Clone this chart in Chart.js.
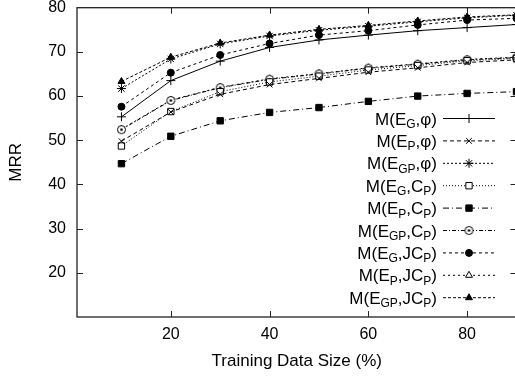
<!DOCTYPE html>
<html>
<head>
<meta charset="utf-8">
<script src="https://cdn.jsdelivr.net/npm/chart.js@4/dist/chart.umd.min.js"></script>
<style>
html, body { margin: 0; padding: 0; background: #fff; overflow: hidden; }
#wrap { width: 522px; height: 376px; }
</style>
</head>
<body>
<div id="wrap"><canvas id="mrr-chart" width="522" height="376"></canvas></div>
<script>
// Dados do gráfico
const trainSizes = [10, 20, 30, 40, 50, 60, 70, 80, 90];
const xTicks = [20, 40, 60, 80];
const yTicks = [20, 30, 40, 50, 60, 70, 80];

const seriesNames = [
	"M(E_G,φ)", "M(E_P,φ)", "M(E_GP,φ)",
	"M(E_G,C_P)", "M(E_P,C_P)", "M(E_GP,C_P)",
	"M(E_G,JC_P)", "M(E_P,JC_P)", "M(E_GP,JC_P)"
];

const egPhi = [55.3, 63.5, 67.9, 71.0, 72.7, 73.8, 74.8, 75.5, 76.2];
const epPhi = [49.8, 56.4, 60.4, 62.6, 64.0, 65.4, 66.4, 67.6, 68.2];
const egpPhi = [61.7, 68.4, 71.8, 73.6, 74.9, 75.8, 76.8, 77.7, 78.3];
const egCp = [48.7, 56.5, 61.0, 63.2, 64.5, 65.9, 66.9, 68.0, 68.5];
const epCp = [44.7, 50.9, 54.4, 56.3, 57.4, 58.8, 60.0, 60.6, 61.0];
const egpCp = [52.4, 59.0, 61.9, 63.8, 65.0, 66.3, 67.2, 68.2, 68.7];
const egJcp = [57.6, 65.3, 69.3, 71.9, 73.8, 74.8, 76.1, 77.2, 77.6];
const epJcp = [52.5, 59.1, 62.0, 63.9, 65.1, 66.4, 67.3, 68.3, 68.8];
const egpJcp = [63.3, 68.8, 72.0, 73.8, 75.1, 76.0, 77.0, 77.9, 78.4];

const seriesValues = [egPhi, epPhi, egpPhi, egCp, epCp, egpCp, egJcp, epJcp, egpJcp];

const FONT = "'Liberation Sans', Arial, Helvetica, sans-serif";

// marcador círculo com ponto central
function circleDot() {
	const c = document.createElement("canvas");
	c.width = c.height = 11;
	const g = c.getContext("2d");
	g.fillStyle = "#fff";
	g.strokeStyle = "#000";
	g.lineWidth = 1;
	g.beginPath();
	g.arc(5.5, 5.5, 4, 0, 2 * Math.PI);
	g.fill();
	g.stroke();
	g.fillStyle = "#000";
	g.beginPath();
	g.arc(5.5, 5.5, 1.3, 0, 2 * Math.PI);
	g.fill();
	return c;
}

const styles = [
	{ dash: [], point: "cross", radius: 4.5, fill: "#000" },
	{ dash: [4, 3], point: "crossRot", radius: 4, fill: "#000" },
	{ dash: [2, 2], point: "star", radius: 4.5, fill: "#000" },
	{ dash: [1, 2], point: "rect", radius: 4.5, fill: "#fff" },
	{ dash: [6, 3, 1, 3], point: "rect", radius: 4.5, fill: "#000" },
	{ dash: [4, 2, 1, 2], point: circleDot(), radius: 4, fill: "#fff" },
	{ dash: [3, 3], point: "circle", radius: 3.5, fill: "#000" },
	{ dash: [2, 3], point: "triangle", radius: 4, fill: "#fff" },
	{ dash: [3, 2], point: "triangle", radius: 4, fill: "#000" }
];

const datasets = seriesNames.map((name, i) => ({
	label: name,
	data: trainSizes.map((x, j) => ({ x: x, y: seriesValues[i][j] })),
	borderColor: "#000",
	borderWidth: 1,
	borderDash: styles[i].dash,
	pointStyle: styles[i].point,
	pointRadius: styles[i].radius,
	pointBackgroundColor: styles[i].fill,
	pointBorderColor: "#000",
	pointBorderWidth: 1,
	tension: 0,
	fill: false
}));

function splitSub(text) {
	const parts = [];
	const re = /_([A-Za-z]+)/g;
	let last = 0, m;
	while ((m = re.exec(text)) !== null) {
		if (m.index > last) parts.push({ t: text.slice(last, m.index), sub: false });
		parts.push({ t: m[1], sub: true });
		last = re.lastIndex;
	}
	if (last < text.length) parts.push({ t: text.slice(last), sub: false });
	return parts;
}

// moldura com marcas de escala para dentro
const framePlugin = {
	id: "frame",
	afterDraw(chart) {
		const { ctx, chartArea: a, scales } = chart;
		ctx.save();
		ctx.strokeStyle = "#222";
		ctx.setLineDash([]);
		ctx.lineWidth = 1.3;
		ctx.strokeRect(a.left, a.top, a.right - a.left, a.bottom - a.top);
		ctx.lineWidth = 1;
		ctx.beginPath();
		xTicks.forEach(v => {
			const px = Math.round(scales.x.getPixelForValue(v)) + 0.5;
			ctx.moveTo(px, a.bottom);
			ctx.lineTo(px, a.bottom - 6);
			ctx.moveTo(px, a.top);
			ctx.lineTo(px, a.top + 6);
		});
		yTicks.forEach(v => {
			if (v >= 80) return;
			const py = Math.round(scales.y.getPixelForValue(v)) + 0.5;
			ctx.moveTo(a.left, py);
			ctx.lineTo(a.left + 6, py);
			ctx.moveTo(a.right, py);
			ctx.lineTo(a.right - 6, py);
		});
		ctx.stroke();
		ctx.restore();
	}
};

// legenda com subscritos
const legendPlugin = {
	id: "subLegend",
	afterDraw(chart) {
		const ctx = chart.ctx;
		const textRight = 437, lineStart = 443, lineEnd = 495, markX = 469;
		ctx.save();
		chart.data.datasets.forEach((ds, i) => {
			const yc = 118.5 + i * 22.4;
			const parts = splitSub(ds.label);
			let w = 0;
			parts.forEach(p => {
				ctx.font = (p.sub ? "12px " : "17px ") + FONT;
				p.w = ctx.measureText(p.t).width;
				w += p.w;
			});
			let x = textRight - w;
			ctx.fillStyle = "#000";
			ctx.textBaseline = "alphabetic";
			ctx.textAlign = "left";
			parts.forEach(p => {
				ctx.font = (p.sub ? "12px " : "17px ") + FONT;
				ctx.fillText(p.t, x, yc + (p.sub ? 9.5 : 6));
				x += p.w;
			});
			ctx.strokeStyle = "#000";
			ctx.lineWidth = 1;
			ctx.setLineDash(ds.borderDash);
			ctx.beginPath();
			ctx.moveTo(lineStart, yc);
			ctx.lineTo(lineEnd, yc);
			ctx.stroke();
			ctx.setLineDash([]);
			ctx.fillStyle = ds.pointBackgroundColor;
			if (Chart.helpers && Chart.helpers.drawPoint) {
				Chart.helpers.drawPoint(ctx, {
					pointStyle: ds.pointStyle,
					radius: ds.pointRadius,
					borderWidth: 1,
					rotation: 0
				}, markX, yc);
			}
		});
		ctx.restore();
	}
};

const ctx = document.getElementById("mrr-chart");

new Chart(ctx, {
	type: "line",
	data: { datasets: datasets },
	options: {
		responsive: false,
		animation: false,
		devicePixelRatio: 1,
		layout: { padding: { top: 0, right: 5, left: 0, bottom: 0 } },
		plugins: {
			legend: { display: false },
			tooltip: { enabled: false }
		},
		scales: {
			x: {
				type: "linear",
				min: 1,
				max: 90,
				afterBuildTicks: s => { s.ticks = xTicks.map(v => ({ value: v })); },
				afterFit: s => { s.height = 59; },
				grid: { display: false, drawTicks: false },
				border: { display: false },
				ticks: {
					color: "#000",
					font: { family: FONT, size: 16, lineHeight: 1 },
					padding: 10,
					maxRotation: 0,
					autoSkip: false
				},
				title: {
					display: true,
					text: "Training Data Size (%)",
					color: "#000",
					font: { family: FONT, size: 17 },
					padding: { top: 0, bottom: 4 }
				}
			},
			y: {
				min: 10,
				max: 80,
				afterBuildTicks: s => { s.ticks = yTicks.map(v => ({ value: v })); },
				afterFit: s => { s.width = 77; s.paddingTop = 7.7; s.paddingBottom = 0; },
				grid: { display: false, drawTicks: false },
				border: { display: false },
				ticks: {
					color: "#000",
					font: { family: FONT, size: 16, lineHeight: 1 },
					padding: 11
				},
				title: {
					display: true,
					text: "MRR",
					color: "#000",
					font: { family: FONT, size: 17 },
					padding: { top: 6, bottom: 0 }
				}
			}
		}
	},
	plugins: [framePlugin, legendPlugin]
});
</script>
</body>
</html>
